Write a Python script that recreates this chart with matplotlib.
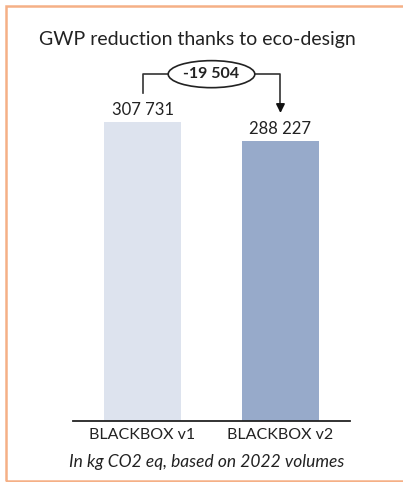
import matplotlib.pyplot as plt
import matplotlib.patches as patches

categories = ['BLACKBOX v1', 'BLACKBOX v2']
values = [307731, 288227]
bar_colors = ['#dde3ee', '#97aaca']
delta = values[1] - values[0]


def fmt(v):
    return f'{v:,}'.replace(',', ' ')


plt.rcParams['font.family'] = ['Lato', 'DejaVu Sans']

fig = plt.figure(figsize=(4.03, 4.82), dpi=100)
ax = fig.add_axes([73 / 403, 61 / 482, 277 / 403, 361 / 482])

x = range(len(categories))
ax.bar(x, values, width=0.558, color=bar_colors)
ax.set_xlim(-0.504, 1.504)
ax.set_ylim(0, values[0] * 361 / 299)

for xi, v in zip(x, values):
    ax.annotate(fmt(v), (xi, v), xytext=(0, 3), textcoords='offset points',
                ha='center', va='bottom', fontsize=12, color='#222222')

# bracket with arrow showing the reduction
top = values[0] * 1.16
ax.plot([0, 0, 1, 1], [values[0] * 1.096, top, top, values[1] * 1.13],
        color='#333333', lw=1.2, clip_on=False)
ax.annotate('', xy=(1, values[1] * 1.09), xytext=(1, values[1] * 1.14),
            arrowprops=dict(arrowstyle='-|>', color='#111111', lw=1.2,
                            mutation_scale=13), annotation_clip=False)
ax.text(0.5, top, fmt(delta), ha='center', va='center', fontsize=11.5,
        fontweight='bold', color='#222222',
        bbox=dict(boxstyle='ellipse,pad=0.16', fc='white', ec='#222222', lw=1.2))

ax.set_xticks(list(x))
ax.set_xticklabels(categories, fontsize=11.5, color='#222222')
ax.tick_params(axis='x', length=0, pad=5)
ax.set_yticks([])
for s in ['top', 'right', 'left']:
    ax.spines[s].set_visible(False)
ax.spines['bottom'].set_color('#222222')
ax.spines['bottom'].set_linewidth(1.3)

fig.text(197 / 403, 1 - 40 / 482, 'GWP reduction thanks to eco-design',
         ha='center', va='center', fontsize=14, color='#222222')
fig.text(207 / 403, 1 - 462 / 482, 'In kg CO2 eq, based on 2022 volumes',
         ha='center', va='center', fontsize=12.5, style='italic', color='#222222')

# orange frame
fig.patches.append(patches.Rectangle((5.5 / 403, 1 / 482), 1.2, 1 - 6.5 / 482,
                                     transform=fig.transFigure, fill=False,
                                     ec='#f5b086', lw=1.8))

fig.savefig('out.png', dpi=100)
